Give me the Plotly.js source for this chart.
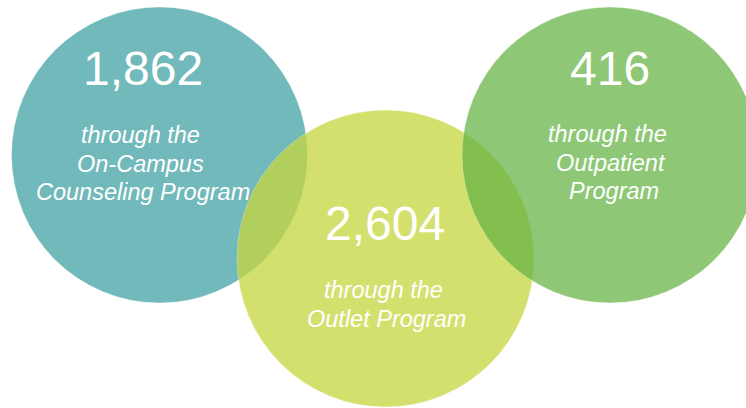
<!DOCTYPE html>
<html>
<head>
<meta charset="utf-8">
<script src="https://cdn.plot.ly/plotly-3.0.1.min.js"></script>
<style>html,body{margin:0;padding:0;background:#fff;}#chart{width:746px;height:408px;}</style>
</head>
<body>
<div id="chart"></div>
<script>
// Data
const programs = ["On-Campus Counseling Program", "Outlet Program", "Outpatient Program"];
const counts = [1862, 2604, 416];
const descLines = [
  ["through the", "On-Campus", "Counseling Program"],
  ["through the", "Outlet Program"],
  ["through the", "Outpatient", "Program"]
];

// Layout / style config (pixel space)
const circles = [
  {cx: 159.5, cy: 155, r: 148, fill: "rgb(114,185,187)", opacity: 1},
  {cx: 385.5, cy: 258.5, r: 148.5, fill: "rgb(199,215,64)", opacity: 0.76},
  {cx: 610, cy: 155, r: 148, fill: "rgb(100,179,68)", opacity: 0.72}
];
const textPos = [
  {x: 143, numY: 68, descY: 135, lineX: [140, 140, 143]},
  {x: 385, numY: 223, descY: 290, lineX: [383, 386]},
  {x: 610, numY: 68, descY: 134, lineX: [607, 611, 614]}
];
const lineGap = 28.5;

const shapes = circles.map(c => ({
  type: "circle", xref: "x", yref: "y",
  x0: c.cx - c.r, x1: c.cx + c.r, y0: c.cy - c.r, y1: c.cy + c.r,
  fillcolor: c.fill, opacity: c.opacity,
  line: {color: "rgba(255,255,255,0.35)", width: 1},
  layer: "above"
}));

const annotations = [];
counts.forEach((v, i) => {
  const p = textPos[i];
  annotations.push({
    x: p.x, y: p.numY, xref: "x", yref: "y", showarrow: false,
    text: v.toLocaleString("en-US"), xanchor: "center", yanchor: "middle",
    font: {family: "Liberation Sans, Arial, sans-serif", size: 48, color: "#ffffff"}
  });
  descLines[i].forEach((ln, j) => {
    annotations.push({
      x: p.lineX[j], y: p.descY + j * lineGap, xref: "x", yref: "y", showarrow: false,
      text: "<i>" + ln + "</i>", xanchor: "center", yanchor: "middle",
      font: {family: "Liberation Sans, Arial, sans-serif", size: 23.5, color: "#ffffff"}
    });
  });
});

const layout = {
  width: 746, height: 408,
  margin: {l: 0, r: 0, t: 0, b: 0},
  paper_bgcolor: "#ffffff", plot_bgcolor: "#ffffff",
  xaxis: {range: [0, 746], visible: false, fixedrange: true},
  yaxis: {range: [408, 0], visible: false, fixedrange: true},
  shapes: shapes,
  annotations: annotations,
  showlegend: false
};

Plotly.newPlot("chart", [{x: [], y: [], type: "scatter", name: programs.join(", ")}], layout, {displayModeBar: false, staticPlot: true});
</script>
</body>
</html>
